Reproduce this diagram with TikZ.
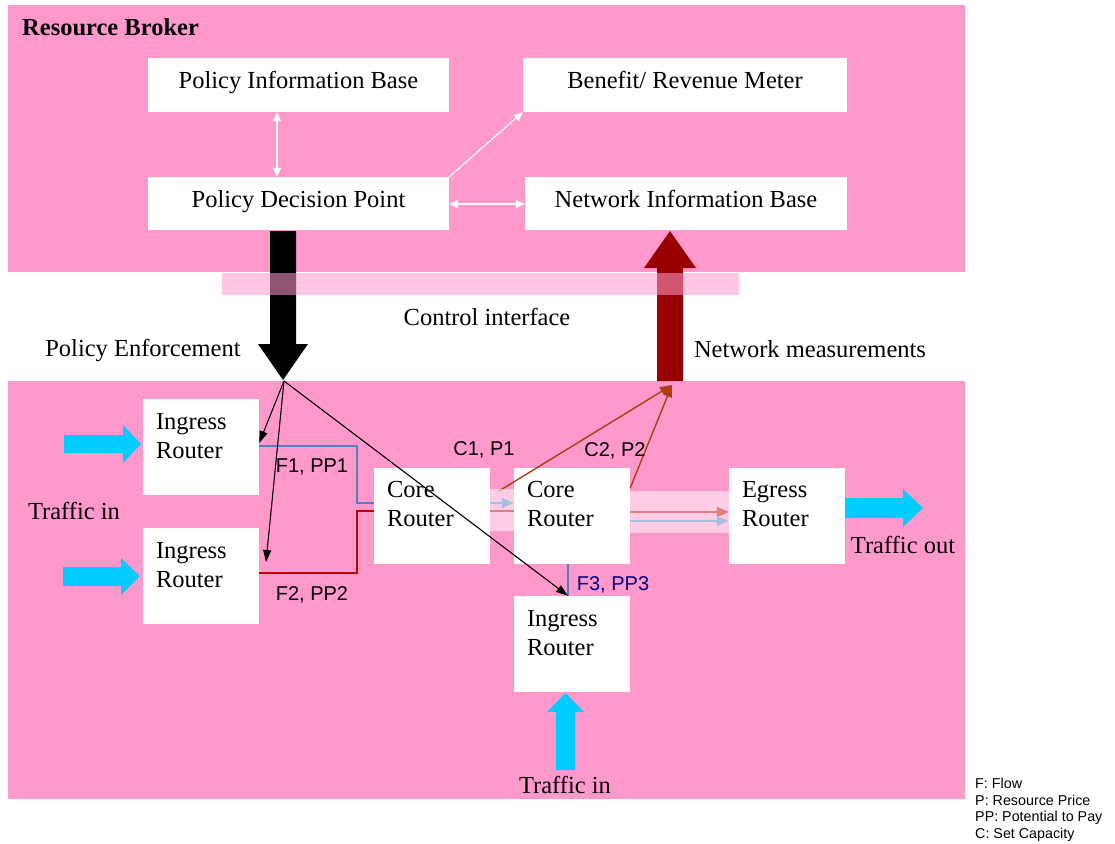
\documentclass[tikz,border=0pt]{standalone}
\usepackage{fontspec}
\setmainfont{Liberation Serif}
\newfontfamily\labelsans{Liberation Sans}
\usetikzlibrary{arrows.meta,calc}

\definecolor{brokerpink}{RGB}{255,153,204}
\definecolor{trafficcyan}{RGB}{0,204,255}
\definecolor{measred}{RGB}{153,0,0}
\definecolor{capbrown}{RGB}{172,62,16}
\definecolor{flowblue}{RGB}{79,129,189}
\definecolor{flowred}{RGB}{192,0,0}
\definecolor{navylabel}{RGB}{0,0,128}

\begin{document}
\begin{tikzpicture}[x=1pt,y=-1pt,
  serif/.style={font=\fontsize{24.5}{29}\selectfont},
  infobox/.style={serif, fill=white, draw=none, inner sep=0pt,
    text height=16pt, text depth=9pt},
  routerbox/.style={fill=white, draw=none, inner sep=0pt,
    minimum width=116pt, minimum height=96pt,
    label={[serif, anchor=north west, align=left, inner sep=0pt,
            xshift=13pt, yshift=-14pt]north west:{#1\\Router}}},
  whitelink/.style={white, line width=1.2pt,
    {Triangle[length=9pt,width=8pt]}-{Triangle[length=9pt,width=8pt]}},
  whitetip/.style={white, line width=1.2pt, -{Triangle[length=9pt,width=8pt]}},
  thinarrow/.style={black, line width=1.1pt, -{Triangle[length=12pt,width=8pt]}},
  flowline/.style={line width=1.4pt},
  flowtip/.style={line width=1.4pt, -{Triangle[length=12pt,width=10pt]}},
  caparrow/.style={capbrown, line width=1.4pt, -{Triangle[length=12pt,width=9pt]}},
  sanslabel/.style={font=\labelsans\fontsize{20}{24}\selectfont, inner sep=0pt},
  trafficarrow/.style={fill=trafficcyan, draw=none},
  lightband/.style={fill=white, opacity=0.5}
]
\useasboundingbox (0,0) rectangle (1115,843);

% the two domains
\fill[brokerpink] (8,5) rectangle (965,272);
\fill[brokerpink] (8,381) rectangle (965,799);

% resource broker components
\node[infobox, minimum width=301pt, minimum height=54pt] (pib) at (298.5,85) {Policy Information Base};
\node[infobox, minimum width=301pt, minimum height=53pt] (pdp) at (298.5,203.5) {Policy Decision Point};
\node[infobox, minimum width=324pt, minimum height=54pt] (brm) at (685,85) {Benefit/ Revenue Meter};
\node[infobox, minimum width=322pt, minimum height=53pt] (nib) at (686,203.5) {Network Information Base};

% routers
\node[routerbox=Ingress] (in1) at (201,447) {};
\node[routerbox=Ingress] (in2) at (201,576) {};
\node[routerbox=Core] (core1) at (432,515.5) {};
\node[routerbox=Core] (core2) at (572,515.5) {};
\node[routerbox=Egress] (egress) at (787,515.5) {};
\node[routerbox=Ingress] (in3) at (572,644) {};

% links inside the broker
\draw[whitelink] (pib.south -| 277,0) -- (pdp.north -| 277,0);
\draw[whitelink] (pdp.east |- 0,204) -- (nib.west |- 0,204);
\draw[whitetip] (pdp.north east) -- (brm.south west);

% policy enforcement and network measurement block arrows
\fill[black] (270,231) -- (296,231) -- (296,344) -- (308,344) -- (283,380)
  -- (258,344) -- (270,344) -- cycle;
\fill[measred] (657,381) -- (683,381) -- (683,268) -- (696,268) -- (670,231)
  -- (644,268) -- (657,268) -- cycle;

% control interface band
\fill[brokerpink, opacity=0.56] (222,273) rectangle (739,295);

% traffic arrows
\fill[trafficarrow] (64,435) -- (123,435) -- (123,425) -- (141,444) -- (123,463)
  -- (123,453) -- (64,453) -- cycle;
\fill[trafficarrow] (63,567) -- (121,567) -- (121,558) -- (140,576) -- (121,595)
  -- (121,586) -- (63,586) -- cycle;
\fill[trafficarrow] (556,770) -- (556,712) -- (547,712) -- (565.5,693) -- (584,712)
  -- (575,712) -- (575,770) -- cycle;
\fill[trafficarrow] (845,498) -- (903,498) -- (903,489) -- (923,508) -- (903,527)
  -- (903,518) -- (845,518) -- cycle;

% flows
\draw[flowline, flowblue] (in1.east |- 0,446) -| (357,503) -- (core1.west |- 0,503);
\draw[flowline, flowred] (in2.east |- 0,573) -| (357,511) -- (core1.west |- 0,511);
\draw[flowtip, flowblue] (core1.east |- 0,503) -- (core2.west |- 0,503);
\draw[flowline, flowred] (core1.east |- 0,511) -- (core2.west |- 0,511);
\draw[flowtip, flowred] (core2.east |- 0,512) -- (egress.west |- 0,512);
\draw[flowtip, flowblue] (core2.east |- 0,521) -- (egress.west |- 0,521);
\draw[flowline, flowblue] (core2.south -| 568,0) -- (in3.north -| 568,0);

% capacity / price reports
\coordinate (meas) at (672,385);
\coordinate (c1out) at (499,491);
\draw[caparrow] (c1out) -- (meas);
\draw[caparrow] (core2.east |- 0,488) -- (meas);

% light bands along the core path
\fill[lightband] (490,489) rectangle (514,531);
\fill[lightband] (630,491) rectangle (729,533);

% policy enforcement to the ingress routers
\coordinate (enf) at (284,381);
\coordinate (in2tip) at (266,562);
\draw[thinarrow] (enf) -- ([yshift=4pt]in1.east);
\draw[thinarrow] (enf) -- (in2tip);
\draw[thinarrow] (enf) -- (in3.north -| 568,0);

% captions
\node[font=\bfseries\fontsize{24.5}{29}\selectfont, anchor=west, inner sep=0pt] (title) at (22,27) {Resource Broker};
\node[serif, inner sep=0pt] (ctrl) at (487,317) {Control interface};
\node[serif, inner sep=0pt] (enforce) at (143,351) {Policy Enforcement};
\node[serif, inner sep=0pt] (measure) at (810,349) {Network measurements};
\node[serif, inner sep=0pt] (tinleft) at (74,511) {Traffic in};
\node[serif, inner sep=0pt] (tinbottom) at (565,785) {Traffic in};
\node[serif, inner sep=0pt] (tout) at (903,545) {Traffic out};

\node[sanslabel] (f1) at (312,467) {F1, PP1};
\node[sanslabel] (f2) at (312,595) {F2, PP2};
\node[sanslabel] (c1) at (484,450) {C1, P1};
\node[sanslabel] (c2) at (615,451) {C2, P2};
\node[sanslabel, text=navylabel] (f3) at (613,585) {F3, PP3};

% legend
\node[font=\labelsans\fontsize{14.3}{16.5}\selectfont, anchor=north west, align=left, inner sep=0pt]
  (legend) at (975,778) {F: Flow\\P: Resource Price\\PP: Potential to Pay\\C: Set Capacity};
\end{tikzpicture}
\end{document}
